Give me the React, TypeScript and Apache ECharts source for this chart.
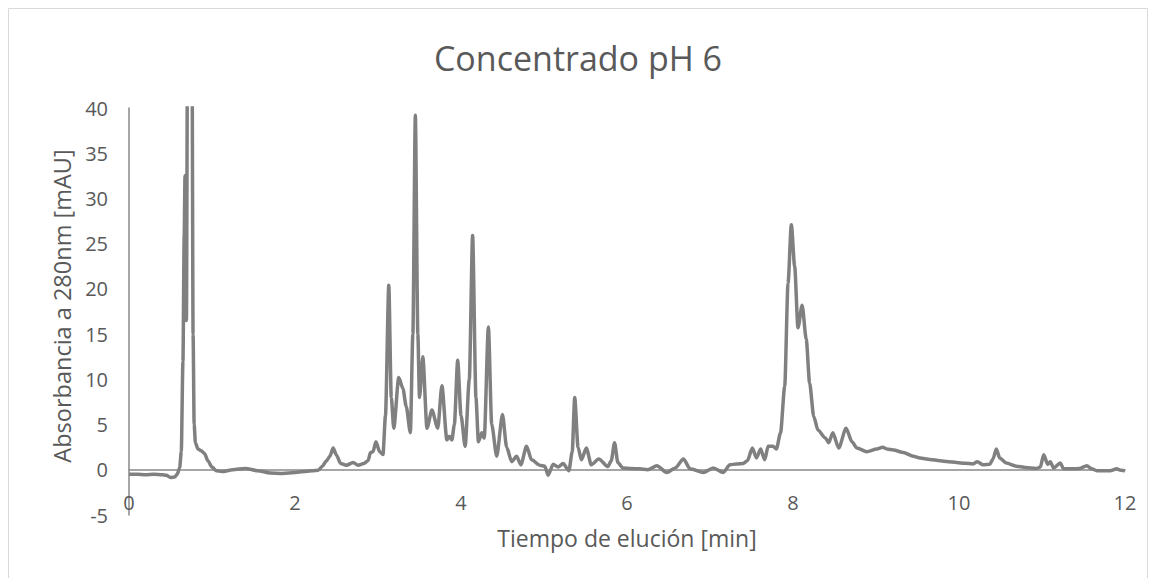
import { useEffect, useRef } from "react";
import * as echarts from "echarts";

// Elution time (min) of each sampled point of the chromatogram
const times = [
  0.0, 0.1, 0.2, 0.3, 0.4, 0.45, 0.5, 0.55, 0.58, 0.61, 0.63, 0.65, 0.665, 0.675, 0.685, 0.692,
  0.705, 0.73, 0.76, 0.772, 0.785, 0.8, 0.83, 0.87, 0.91, 0.95, 1.0, 1.05, 1.12, 1.25, 1.4, 1.55,
  1.7, 1.85, 2.0, 2.15, 2.28, 2.33, 2.38, 2.42, 2.46, 2.5, 2.55, 2.62, 2.7, 2.76, 2.83, 2.88,
  2.91, 2.94, 2.975, 3.02, 3.06, 3.09, 3.13, 3.16, 3.19, 3.25, 3.3, 3.34, 3.39, 3.42, 3.45, 3.48,
  3.5, 3.54, 3.59, 3.65, 3.72, 3.77, 3.83, 3.86, 3.89, 3.92, 3.96, 4.0, 4.05, 4.1, 4.14, 4.18,
  4.21, 4.25, 4.28, 4.33, 4.37, 4.43, 4.5, 4.55, 4.61, 4.67, 4.72, 4.79, 4.85, 4.95, 5.01, 5.05,
  5.11, 5.17, 5.23, 5.3, 5.34, 5.37, 5.41, 5.45, 5.51, 5.57, 5.66, 5.77, 5.81, 5.85, 5.89, 5.95,
  6.05, 6.15, 6.25, 6.36, 6.48, 6.58, 6.68, 6.76, 6.92, 7.04, 7.16, 7.24, 7.32, 7.4, 7.45, 7.51,
  7.56, 7.61, 7.66, 7.7, 7.76, 7.8, 7.85, 7.9, 7.94, 7.98, 8.02, 8.06, 8.11, 8.16, 8.2, 8.25,
  8.3, 8.39, 8.43, 8.48, 8.55, 8.64, 8.71, 8.77, 8.89, 9.01, 9.08, 9.13, 9.21, 9.33, 9.45, 9.53,
  9.65, 9.77, 9.87, 9.97, 10.07, 10.17, 10.22, 10.29, 10.37, 10.41, 10.45, 10.49, 10.57, 10.69,
  10.8, 10.93, 10.98, 11.02, 11.07, 11.1, 11.14, 11.22, 11.26, 11.36, 11.45, 11.54, 11.6, 11.66,
  11.82, 11.9, 11.95, 12.0,
];

// Absorbance at 280 nm (mAU) for each time above
const absorbance = [
  -0.5, -0.5, -0.55, -0.5, -0.55, -0.6, -0.85, -0.8, -0.5, 0.2, 2, 12, 26, 32.5, 22, 16.5,
  48, 95, 45, 15, 5, 3, 2.3, 2.1, 1.8, 1.0, 0.3, -0.1, -0.2, 0.0, 0.15, -0.1,
  -0.35, -0.4, -0.3, -0.15, -0.05, 0.4, 1.0, 1.5, 2.4, 1.6, 0.7, 0.5, 0.8, 0.5, 0.7, 1.0,
  1.9, 2.0, 3.1, 2.0, 1.7, 6, 20.4, 8, 4.6, 10.2, 9.0, 7.0, 4.1, 15, 39.2, 15,
  8.0, 12.5, 4.6, 6.6, 4.6, 9.3, 3.3, 3.7, 3.3, 5, 12.1, 6, 2.6, 10, 25.9, 8,
  3.1, 4.1, 3.5, 15.8, 5, 1.5, 6.1, 2.5, 0.9, 1.5, 0.55, 2.6, 1.1, 0.5, 0.4, -0.6,
  0.6, 0.3, 0.7, -0.1, 2, 8.0, 2.5, 1.1, 2.4, 0.55, 1.2, 0.35, 1, 3.0, 0.8, 0.2,
  0.15, 0.1, 0.0, 0.45, -0.3, 0.2, 1.2, 0.1, -0.3, 0.2, -0.3, 0.55, 0.65, 0.7, 1.0, 2.4,
  1.3, 2.3, 1.1, 2.6, 2.6, 2.3, 4.1, 9.2, 20.6, 27.1, 22.5, 15.7, 18.2, 14.4, 9.6, 5.9,
  4.4, 3.5, 3.0, 4.1, 2.4, 4.6, 3.1, 2.4, 2.0, 2.3, 2.5, 2.3, 2.2, 1.9, 1.5, 1.3,
  1.15, 1.0, 0.9, 0.8, 0.72, 0.65, 0.9, 0.55, 0.6, 1.2, 2.3, 1.3, 0.75, 0.4,
  0.25, 0.15, 0.3, 1.65, 0.6, 0.9, 0.2, 0.75, 0.1, 0.1, 0.15, 0.45, 0.1, -0.1,
  -0.1, 0.1, -0.05, -0.1,
];

const chartTitle = "Concentrado pH 6";
const xAxisTitle = "Tiempo de elución [min]";
const yAxisTitle = "Absorbancia a 280nm [mAU]";

const FONT = "'Open Sans', 'Noto Sans', sans-serif";
const TEXT = "#595959";
const AXIS = "#898989";

export default function App() {
  const ref = useRef<HTMLDivElement>(null);

  useEffect(() => {
    if (!ref.current) return;
    const chart = echarts.init(ref.current, undefined, { renderer: "svg" });
    const points = times.map((t, i) => [t, absorbance[i]]);

    chart.setOption({
      animation: false,
      backgroundColor: "#ffffff",
      textStyle: { fontFamily: FONT },
      grid: { left: 129, right: 31, top: 108, bottom: 63, containLabel: false },
      graphic: [
        {
          type: "rect",
          shape: { x: 8.5, y: 8.5, width: 1139, height: 600 },
          style: { fill: "none", stroke: "#d9d9d9", lineWidth: 1 },
          silent: true,
        },
        {
          type: "text",
          x: 578,
          y: 58,
          style: {
            text: chartTitle,
            fontFamily: FONT,
            fontSize: 34,
            fill: TEXT,
            align: "center",
            verticalAlign: "middle",
          },
        },
        {
          type: "text",
          x: 627,
          y: 538,
          style: {
            text: xAxisTitle,
            fontFamily: FONT,
            fontSize: 23,
            fill: TEXT,
            align: "center",
            verticalAlign: "middle",
          },
        },
        {
          type: "text",
          x: 62,
          y: 306,
          rotation: Math.PI / 2,
          style: {
            text: yAxisTitle,
            fontFamily: FONT,
            fontSize: 23.5,
            fill: TEXT,
            align: "center",
            verticalAlign: "middle",
          },
        },
      ],
      xAxis: {
        type: "value",
        min: 0,
        max: 12,
        interval: 2,
        axisLine: { show: true, onZero: true, lineStyle: { color: AXIS, width: 1.5 } },
        axisTick: { show: false },
        splitLine: { show: false },
        axisLabel: { color: TEXT, fontSize: 20, fontFamily: FONT, margin: -23 },
      },
      yAxis: {
        type: "value",
        min: -5,
        max: 40,
        interval: 5,
        axisLine: { show: true, onZero: false, lineStyle: { color: AXIS, width: 1.5 } },
        axisTick: { show: false },
        splitLine: { show: false },
        axisLabel: { color: TEXT, fontSize: 20, fontFamily: FONT, margin: 21 },
      },
      series: [
        {
          type: "line",
          data: points,
          showSymbol: false,
          smooth: 0.25,
          smoothMonotone: "x",
          clip: true,
          lineStyle: { color: "#808080", width: 3.5 },
        },
      ],
    });

    return () => chart.dispose();
  }, []);

  return (
    <div
      ref={ref}
      style={{ position: "fixed", left: 0, top: 0, width: 1156, height: 578 }}
    />
  );
}
